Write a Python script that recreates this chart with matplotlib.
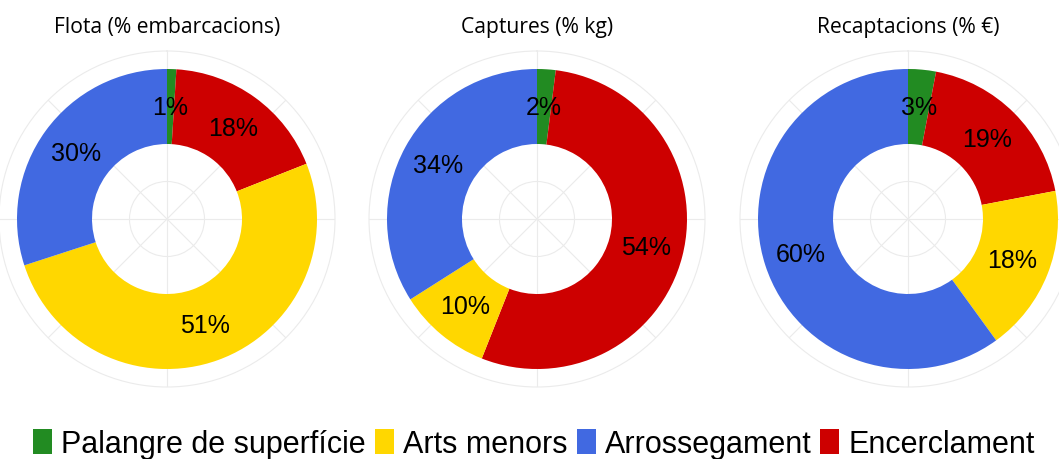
import numpy as np
import matplotlib
matplotlib.use("Agg")
import matplotlib.pyplot as plt
from matplotlib.patches import Patch

# ---- data ----
categories = ["Palangre de superfície", "Arts menors", "Arrossegament", "Encerclament"]
colors = ["#228B22", "#FFD700", "#4169E1", "#CD0000"]
titles = ["Flota (% embarcacions)", "Captures (% kg)", "Recaptacions (% €)"]
flota = [1, 51, 30, 18]
captures = [2, 10, 34, 54]
recaptacions = [3, 18, 60, 19]
panels = [flota, captures, recaptacions]
# drawing order clockwise from the top
order = [0, 3, 1, 2]

W, H = 1059, 460
fig = plt.figure(figsize=(W / 100, H / 100), dpi=100)
fig.patch.set_facecolor("white")

centers_x = [167, 537, 908]
cy = 220
R_out_px = 168.0
grid_col = "#ebebeb"

for i, vals in enumerate(panels):
    cx = centers_x[i]
    ax = fig.add_axes([(cx - R_out_px) / W, (H - cy - R_out_px) / H,
                       2 * R_out_px / W, 2 * R_out_px / H], projection="polar")
    ax.set_theta_zero_location("N")
    ax.set_theta_direction(-1)
    ax.set_ylim(0, R_out_px / 75.0)
    ax.set_facecolor("white")
    ax.set_axisbelow(True)
    ax.set_rgrids([0.5, 1.5], labels=[])
    ax.set_thetagrids(np.arange(0, 360, 45), labels=[])
    ax.grid(True, color=grid_col, linewidth=0.8)
    ax.spines["polar"].set_color(grid_col)
    ax.spines["polar"].set_linewidth(0.8)
    ax.tick_params(length=0)

    total = float(sum(vals))
    start = 0.0
    for k in order:
        frac = vals[k] / total
        th0 = start * 2 * np.pi
        w = frac * 2 * np.pi
        ax.bar(th0, 1.0, width=w, bottom=1.0, align="edge",
               color=colors[k], edgecolor="none", linewidth=0, zorder=2)
        mid = th0 + w / 2
        ax.text(mid, 1.5, f"{vals[k]}%", ha="center", va="center",
                fontsize=18, family="Liberation Sans", color="black", zorder=3)
        start += frac

    fig.text(cx / W, 1 - 28 / H, titles[i], ha="center", va="center",
             fontsize=15.2, family="Open Sans", color="black")

handles = [Patch(facecolor=c, edgecolor="none") for c in colors]
fs = 22
em = fs * 100 / 72
leg = fig.legend(handles, categories, loc="center", bbox_to_anchor=(534 / W, 1 - 445 / H),
                 ncol=4, frameon=False, prop={"family": "Liberation Sans", "size": fs},
                 handlelength=19 / em, handleheight=26 / em, handletextpad=9 / em,
                 columnspacing=9 / em, borderpad=0, borderaxespad=0)

fig.savefig("out.png", dpi=100, facecolor="white")
